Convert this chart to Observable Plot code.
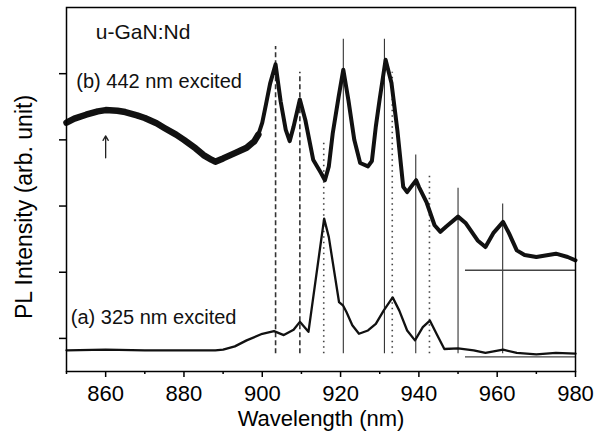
<!DOCTYPE html>
<html>
<head>
<meta charset="utf-8">
<script src="https://cdn.jsdelivr.net/npm/d3@7"></script>
<script src="https://cdn.jsdelivr.net/npm/@observablehq/plot@0.6"></script>
<style>
  html, body { margin: 0; padding: 0; background: white; }
</style>
</head>
<body>
<div id="chart"></div>
<script>
// Spectrum (b) 442 nm excited
const bWave = [850, 852, 855, 858, 860, 863, 865, 868, 870, 873, 875, 878, 880, 883, 885, 887, 888, 890, 893, 896, 898, 899, 900, 901, 902, 903.4, 904.7, 906, 907, 908, 909.6, 911, 913, 915, 916, 917, 918, 919.5, 920.7, 922, 923.5, 925, 927, 928, 929, 930, 931.5, 933, 934.5, 936, 937, 938, 939.3, 940, 942, 944, 945.5, 947, 950, 952, 955, 957, 959, 961.5, 963, 965, 967, 970, 975, 978, 980];
const bVal  = [4.26, 4.32, 4.38, 4.43, 4.45, 4.44, 4.42, 4.37, 4.33, 4.25, 4.18, 4.08, 4.0, 3.87, 3.77, 3.70, 3.67, 3.72, 3.80, 3.88, 3.98, 4.08, 4.26, 4.55, 4.85, 5.14, 4.58, 4.15, 3.98, 4.2, 4.61, 4.3, 3.70, 3.5, 3.39, 3.6, 4.1, 4.65, 5.06, 4.6, 4.0, 3.65, 3.6, 3.68, 4.2, 4.62, 5.21, 4.86, 4.15, 3.29, 3.21, 3.29, 3.39, 3.29, 3.05, 2.71, 2.61, 2.69, 2.84, 2.74, 2.48, 2.38, 2.59, 2.76, 2.59, 2.33, 2.26, 2.23, 2.28, 2.23, 2.18];

// Spectrum (a) 325 nm excited
const aWave = [850, 860, 870, 880, 888, 890, 893, 896, 900, 903, 905.5, 908, 909.6, 911.8, 915.8, 917, 919.6, 920.6, 921.5, 923, 924.7, 927, 929, 931, 933.3, 935, 937, 939, 941, 942.8, 944.5, 946.5, 950, 954, 957, 961.5, 965, 970, 975, 980];
const aVal  = [0.82, 0.83, 0.82, 0.82, 0.82, 0.83, 0.88, 0.97, 1.07, 1.11, 1.05, 1.13, 1.25, 1.10, 2.81, 2.53, 1.55, 1.50, 1.40, 1.20, 1.07, 1.12, 1.22, 1.42, 1.62, 1.42, 1.12, 0.97, 1.17, 1.27, 1.07, 0.84, 0.85, 0.82, 0.78, 0.83, 0.78, 0.76, 0.78, 0.77];

// Vertical marker lines
const vlWave  = [903.4, 909.6, 915.7, 920.7, 931.2, 933.2, 939.2, 942.7, 950.0, 961.4];
const vlTop   = [5.41, 5.02, 3.95, 5.52, 5.52, 5.02, 3.77, 3.5, 3.27, 3.03];
const vlStyle = ["dashed", "dashed", "dotted", "solid", "solid", "dotted", "solid", "dotted", "solid", "solid"];
const vlBottom = 0.77;

// Horizontal baselines
const hlLevel = [2.03, 0.72];
const hlStart = 951.9;
const hlEnd = 980;

// Ticks
const xTicks = [860, 880, 900, 920, 940, 960, 980];
const xMinor = [850, 870, 890, 910, 930, 950, 970];
const yTicks = [1, 2, 3, 4, 5];

// Annotations
const labels = [
  {text: "u-GaN:Nd", x: 857.5, y: 5.62, size: 21},
  {text: "(b) 442 nm excited", x: 852.5, y: 4.88, size: 20},
  {text: "(a) 325 nm excited", x: 851.1, y: 1.32, size: 20}
];
const arrowX = 860, arrowY1 = 3.73, arrowY2 = 4.06;

const bData = bWave.map((w, i) => ({w, v: bVal[i]}));
const aData = aWave.map((w, i) => ({w, v: aVal[i]}));
const vl = vlWave.map((w, i) => ({w, top: vlTop[i], style: vlStyle[i]}));
const hl = hlLevel.map(v => ({v}));

const chart = Plot.plot({
  width: 603,
  height: 435,
  marginTop: 7,
  marginRight: 28,
  marginBottom: 64,
  marginLeft: 66,
  x: {domain: [850, 980]},
  y: {domain: [0.5, 6.0]},
  style: {fontFamily: "'Liberation Sans', Arial, sans-serif", fontSize: "22px", color: "black", background: "white"},
  marks: [
    Plot.ruleX(vl.filter(d => d.style === "solid"), {x: "w", y1: vlBottom, y2: "top", stroke: "#333", strokeWidth: 1.1}),
    Plot.ruleX(vl.filter(d => d.style === "dashed"), {x: "w", y1: vlBottom, y2: "top", stroke: "#333", strokeWidth: 1.6, strokeDasharray: "5,3"}),
    Plot.ruleX(vl.filter(d => d.style === "dotted"), {x: "w", y1: vlBottom, y2: "top", stroke: "#444", strokeWidth: 1.6, strokeDasharray: "1.5,4"}),
    Plot.ruleY(hl, {y: "v", x1: hlStart, x2: hlEnd, stroke: "#444", strokeWidth: 1.3}),
    Plot.line(aData, {x: "w", y: "v", stroke: "#111", strokeWidth: 2.3, strokeLinejoin: "round"}),
    Plot.line(bData, {x: "w", y: "v", stroke: "#111", strokeWidth: 4, strokeLinejoin: "round"}),
    Plot.line(bData.filter(d => d.w <= 899), {x: "w", y: "v", stroke: "#111", strokeWidth: 6.5, strokeLinejoin: "round"}),
    Plot.arrow([{x: arrowX}], {x1: "x", x2: "x", y1: arrowY1, y2: arrowY2, stroke: "#222", strokeWidth: 1.3, headLength: 6}),
    Plot.text(labels, {x: "x", y: "y", text: "text", textAnchor: "start", fontSize: "size", fill: "#111"}),
    Plot.frame({stroke: "black", strokeWidth: 1.5}),
    Plot.axisX({ticks: xTicks, tickSize: 6, tickPadding: 8, tickFormat: d => String(d), label: null, strokeWidth: 1.5}),
    Plot.axisX({ticks: xMinor, tickSize: 3, tickFormat: () => "", label: null, strokeWidth: 1.5}),
    Plot.axisY({ticks: yTicks, tickSize: 7, tickFormat: () => "", label: null, strokeWidth: 1.5}),
    Plot.text(["Wavelength (nm)"], {frameAnchor: "bottom", dy: 47, fontSize: 22, lineAnchor: "middle", textAnchor: "middle"}),
    Plot.text(["PL Intensity (arb. unit)"], {frameAnchor: "left", dx: -42, dy: 17.5, rotate: -90, fontSize: 23, lineAnchor: "middle", textAnchor: "middle"})
  ]
});
document.getElementById("chart").append(chart);
</script>
</body>
</html>
